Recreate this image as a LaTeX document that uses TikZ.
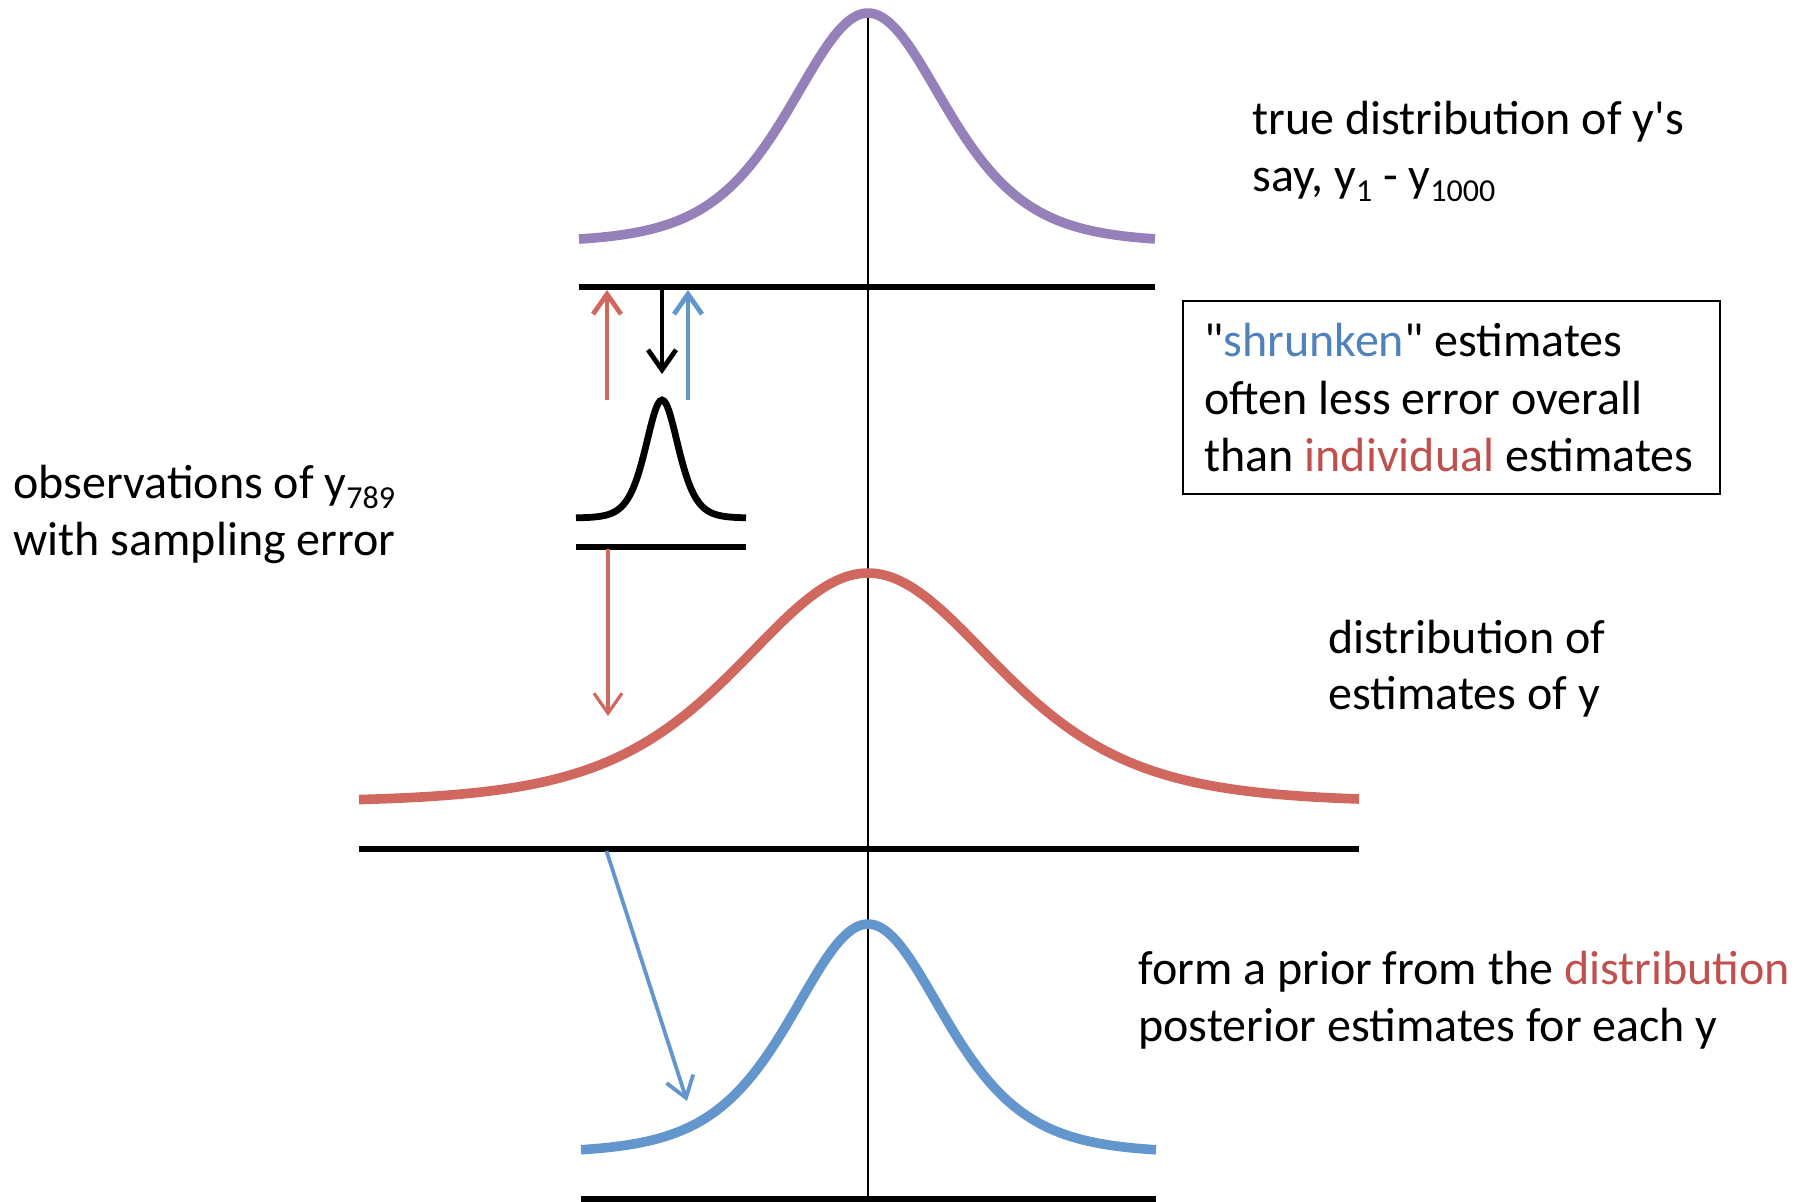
\documentclass[tikz,border=0pt]{standalone}
\usepackage{fontspec}
\setmainfont{Carlito}[Ligatures=TeXOff]
\usetikzlibrary{arrows.meta}
\definecolor{cpurple}{RGB}{149,128,185}
\definecolor{cred}{RGB}{208,104,96}
\definecolor{cblue}{RGB}{98,150,205}
\definecolor{tred}{RGB}{192,80,77}
\definecolor{tblue}{RGB}{79,129,189}
\newcommand\lowsub[1]{\raisebox{-5pt}{\fontsize{16}{16}\selectfont #1}}
\tikzset{
  lbl/.style={anchor=base west, inner sep=0pt, font=\fontsize{24}{28.75}\selectfont},
  axisline/.style={line width=2.8pt, black},
  curve/.style={line width=4.8pt, smooth},
  barb/.style={-{Straight Barb[length=10pt,width=14pt]}},
}
\begin{document}
\begin{tikzpicture}[x=0.5pt,y=-0.5pt]
\useasboundingbox (0,0) rectangle (1798,1201);
% central vertical line
\coordinate (vtop) at (868,16);
\coordinate (vbot) at (868,1201);
\draw[line width=0.8pt] (vtop) -- (vbot);
% purple curve and line
\draw[curve, cpurple] plot[domain=579:1155, samples=120] (\x, {242.4 - 229.4*4/(exp((\x-868)/103)+exp(-(\x-868)/103))^2});
\draw[axisline] (579,287) -- (1155,287);
% small black curve and line
\draw[curve, black, line width=3.4pt] plot[domain=576:746, samples=80] (\x, {518 - 118*4/(exp((\x-662)/22)+exp(-(\x-662)/22))^2});
\draw[axisline] (576,547) -- (746,547);
% red curve and line
\draw[curve, cred] plot[domain=359:1359, samples=160] (\x, {802 - 229*4/(exp((\x-868)/172)+exp(-(\x-868)/172))^2});
\draw[axisline] (359,849) -- (1359,849);
% blue curve and line
\draw[curve, cblue] plot[domain=581:1156, samples=120] (\x, {1153 - 229*4/(exp((\x-868)/102)+exp(-(\x-868)/102))^2});
\draw[axisline] (581,1199) -- (1156,1199);
% arrows
\coordinate (ra0) at (607,400); \coordinate (ra1) at (607,290);
\coordinate (ba0) at (688,400); \coordinate (ba1) at (688,290);
\coordinate (ka0) at (662,289); \coordinate (ka1) at (662,374);
\coordinate (rd0) at (608,549); \coordinate (rd1) at (608,716);
\coordinate (bd0) at (606.5,851); \coordinate (bd1) at (687,1101);
\draw[barb, cred, line width=2.4pt] (ra0) -- (ra1);
\draw[barb, cblue, line width=2.4pt] (ba0) -- (ba1);
\draw[barb, black, line width=2.4pt] (ka0) -- (ka1);
\draw[barb, cred, line width=1.6pt] (rd0) -- (rd1);
\draw[barb, cblue, line width=1.9pt] (bd0) -- (bd1);
% texts
\node[lbl] (t1) at (1252,134) {true distribution of y's};
\node[lbl] (t2) at (1252,191.5) {say, y\lowsub{1} - y\lowsub{1000}};
\draw[line width=0.75pt] (1183,301) rectangle (1720,494);
\node[lbl] (b1) at (1204,356.7) {"\textcolor{tblue}{shrunken}" estimates};
\node[lbl] (b2) at (1204,414) {often less error overall};
\node[lbl] (b3) at (1204,471.7) {than \textcolor{tred}{individual} estimates};
\node[lbl] (o1) at (13,498) {observations of y\lowsub{789}};
\node[lbl] (o2) at (13,555) {with sampling error};
\node[lbl] (d1) at (1328,653) {distribution of};
\node[lbl] (d2) at (1328,709) {estimates of y};
\node[lbl] (f1) at (1138,984) {form a prior from the \textcolor{tred}{distribution}};
\node[lbl] (f2) at (1138,1041) {posterior estimates for each y};
\end{tikzpicture}
\end{document}
